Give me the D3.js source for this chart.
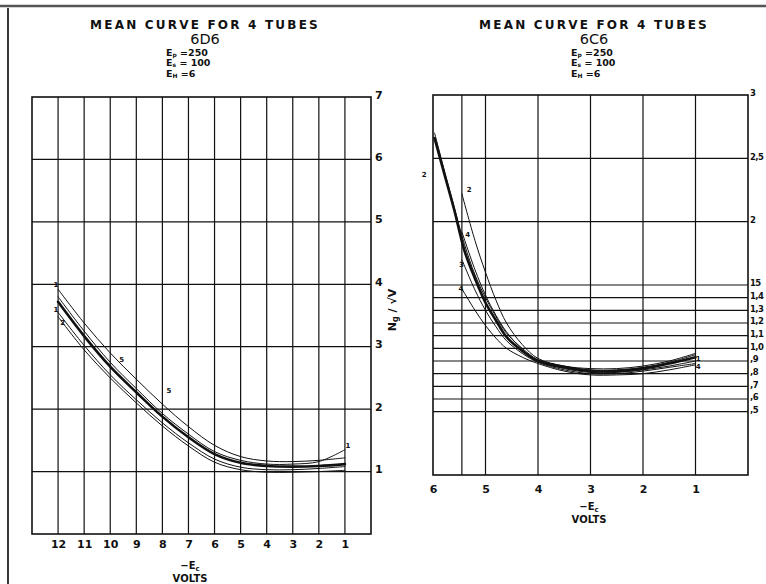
<!DOCTYPE html>
<html><head><meta charset="utf-8">
<script src="https://cdn.jsdelivr.net/npm/d3@7"></script>
<style>
body{margin:0;background:#fff}
svg{display:block}
text{font-family:"DejaVu Sans","Liberation Sans",sans-serif;fill:#111}
</style>
</head><body>
<svg id="c" width="766" height="584"></svg>
<script>
// ---------- DATA ----------
// Left chart: 6D6, x = -Ec volts, y = Ng/sqrt(V)
const leftBias = [12, 11, 10, 9, 8, 7, 6, 5, 4, 3, 2, 1];
const leftMean  = [3.72, 3.17, 2.68, 2.27, 1.88, 1.55, 1.28, 1.14, 1.09, 1.08, 1.09, 1.12];
const leftTube5 = [3.92, 3.38, 2.90, 2.48, 2.08, 1.72, 1.42, 1.24, 1.17, 1.16, 1.18, 1.22];
const leftTube1 = [3.80, 3.25, 2.75, 2.33, 1.93, 1.60, 1.32, 1.18, 1.12, 1.12, 1.16, 1.35];
const leftTube2 = [3.55, 3.02, 2.55, 2.15, 1.78, 1.46, 1.20, 1.07, 1.03, 1.03, 1.05, 1.08];
const leftTube4 = [3.48, 2.95, 2.50, 2.10, 1.73, 1.41, 1.15, 1.03, 0.99, 0.99, 1.00, 1.02];
const leftXTicks = [12, 11, 10, 9, 8, 7, 6, 5, 4, 3, 2, 1];
const leftXTickLabels = ["12","11","10","9","8","7","6","5","4","3","2","1"];
const leftYTicks = [1, 2, 3, 4, 5, 6, 7];
const leftYTickLabels = ["1","2","3","4","5","6","7"];
const leftNotes = [["1", 12.08, 3.99], ["1", 12.08, 3.60], ["2", 11.82, 3.38], ["5", 9.56, 2.79], ["5", 7.75, 2.30], ["1", 0.88, 1.41]];

// Right chart: 6C6
const rightMeanBias = [5.97, 5.8, 5.6, 5.4, 5.2, 5.0, 4.8, 4.6, 4.3, 4.0, 3.5, 3.0, 2.5, 2.0, 1.5, 1.0];
const rightMean     = [2.66, 2.40, 2.10, 1.77, 1.55, 1.36, 1.22, 1.09, 0.98, 0.90, 0.85, 0.82, 0.82, 0.84, 0.88, 0.93];
const rightTube1    = [2.70, 2.43, 2.12, 1.82, 1.58, 1.40, 1.25, 1.12, 1.00, 0.91, 0.86, 0.83, 0.83, 0.85, 0.89, 0.95];
const rightTubeBias = [5.45, 5.2, 5.0, 4.8, 4.6, 4.3, 4.0, 3.5, 3.0, 2.5, 2.0, 1.5, 1.0];
const rightTube2    = [2.22, 1.85, 1.60, 1.38, 1.20, 1.03, 0.92, 0.86, 0.84, 0.84, 0.86, 0.90, 0.96];
const rightTube4a   = [1.92, 1.62, 1.42, 1.26, 1.13, 0.99, 0.90, 0.84, 0.81, 0.81, 0.83, 0.86, 0.90];
const rightTube3    = [1.70, 1.46, 1.30, 1.17, 1.06, 0.96, 0.89, 0.83, 0.80, 0.80, 0.82, 0.85, 0.88];
const rightTube4b   = [1.47, 1.30, 1.18, 1.08, 1.00, 0.93, 0.88, 0.82, 0.79, 0.79, 0.80, 0.83, 0.87];
const rightXTicks = [6, 5, 4, 3, 2, 1];
const rightXTickLabels = ["6","5","4","3","2","1"];
const rightXGrid = [5.45, 5, 4, 3, 2, 1];
const rightYTicks = [3, 2.5, 2, 1.5, 1.4, 1.3, 1.2, 1.1, 1.0, 0.9, 0.8, 0.7, 0.6, 0.5];
const rightYTickLabels = ["3","2,5","2","15","1,4","1,3","1,2","1,1","1,0",",9",",8",",7",",6",",5"];
const rightNotes = [["2", 6.17, 2.37], ["2", 5.31, 2.25], ["4", 5.34, 1.90], ["3", 5.46, 1.66], ["4", 5.47, 1.47], ["1", 0.95, 0.92], ["4", 0.95, 0.86]];

// ---------- DRAW ----------
const svg = d3.select("#c");
const ink = "#111";

// scan page borders
svg.append("line").attr("x1",0).attr("x2",766).attr("y1",6).attr("y2",6).attr("stroke","#555").attr("stroke-width",2.5);
svg.append("line").attr("x1",8).attr("x2",8).attr("y1",8).attr("y2",584).attr("stroke","#222").attr("stroke-width",1.8);

function drawChart(o){
  const g = svg.append("g");
  const x = d3.scaleLinear().domain(o.xDomain).range(o.xRange);
  const y = d3.scaleLinear().domain(o.yDomain).range(o.yRange);
  const [x0,x1] = o.xRange, [y0,y1] = o.yRange;
  g.append("g").selectAll("line").data(o.xGrid).join("line")
    .attr("x1",d=>x(d)).attr("x2",d=>x(d)).attr("y1",y1).attr("y2",y0)
    .attr("stroke",ink).attr("stroke-width",1.2);
  g.append("g").selectAll("line").data(o.yGrid).join("line")
    .attr("x1",x0).attr("x2",x1).attr("y1",d=>y(d)).attr("y2",d=>y(d))
    .attr("stroke",ink).attr("stroke-width",1.2);
  g.append("rect").attr("x",x0).attr("y",y1).attr("width",x1-x0).attr("height",y0-y1)
    .attr("fill","none").attr("stroke",ink).attr("stroke-width",1.6);
  const xa = d3.axisBottom(x).tickValues(o.xTicks).tickFormat((d,i)=>o.xTickLabels[i]).tickSize(0).tickPadding(o.xPad);
  const xg = g.append("g").attr("transform",`translate(0,${y0})`).call(xa);
  xg.select(".domain").remove();
  xg.selectAll("text").style("font-size","11px").style("font-weight","bold").attr("fill",ink);
  const ya = d3.axisRight(y).tickValues(o.yTicks).tickFormat((d,i)=>o.yTickLabels[i]).tickSize(0).tickPadding(o.yPad);
  const yg = g.append("g").attr("transform",`translate(${x1},0)`).call(ya);
  yg.select(".domain").remove();
  yg.selectAll("text").style("font-size",o.yFont).style("font-weight","bold").style("letter-spacing",o.yLs||"0px")
    .attr("fill",ink).attr("dy","0.1em");
  const line = d3.line().x(d=>x(d[0])).y(d=>y(d[1])).curve(d3.curveCatmullRom.alpha(0.5));
  o.series.forEach(s=>{
    g.append("path").attr("d", line(s.xs.map((v,i)=>[v,s.ys[i]])))
      .attr("fill","none").attr("stroke",ink).attr("stroke-width",s.w).attr("stroke-linecap","round");
  });
  g.append("g").selectAll("text").data(o.notes).join("text")
    .attr("x",d=>x(d[1])).attr("y",d=>y(d[2])).attr("text-anchor","middle").attr("dy","0.35em")
    .style("font-size","7px").style("font-weight","bold").text(d=>d[0]);
  return {x,y};
}

drawChart({
  xDomain:[13,0], xRange:[32,371], yDomain:[0,7], yRange:[534,97],
  xGrid:leftXTicks, yGrid:[1,2,3,4,5,6],
  xTicks:leftXTicks, xTickLabels:leftXTickLabels, xPad:6,
  yTicks:leftYTicks, yTickLabels:leftYTickLabels, yPad:4, yFont:"11px",
  series:[
    {xs:leftBias, ys:leftTube5, w:1},
    {xs:leftBias, ys:leftTube1, w:1},
    {xs:leftBias, ys:leftTube2, w:1},
    {xs:leftBias, ys:leftTube4, w:1},
    {xs:leftBias, ys:leftMean, w:2.6}
  ],
  notes:leftNotes
});

drawChart({
  xDomain:[6,0], xRange:[433,748], yDomain:[0,3], yRange:[475,95],
  xGrid:rightXGrid, yGrid:[2.5,2,1.5,1.4,1.3,1.2,1.1,1.0,0.9,0.8,0.7,0.6,0.5],
  xTicks:rightXTicks, xTickLabels:rightXTickLabels, xPad:10,
  yTicks:rightYTicks, yTickLabels:rightYTickLabels, yPad:2, yFont:"8.5px", yLs:"-0.6px",
  series:[
    {xs:rightMeanBias, ys:rightTube1, w:1},
    {xs:rightTubeBias, ys:rightTube2, w:1},
    {xs:rightTubeBias, ys:rightTube4a, w:1},
    {xs:rightTubeBias, ys:rightTube3, w:1},
    {xs:rightTubeBias, ys:rightTube4b, w:1},
    {xs:rightMeanBias, ys:rightMean, w:2.6}
  ],
  notes:rightNotes
});

// titles
function header(cx, tube, ex){
  const t = svg.append("g");
  t.append("text").attr("x",cx).attr("y",29).attr("text-anchor","middle")
    .style("font-size","12px").style("letter-spacing","2.2px").style("font-weight","bold").text("MEAN CURVE FOR 4 TUBES");
  t.append("text").attr("x",cx).attr("y",44).attr("text-anchor","middle")
    .style("font-size","14.5px").text(tube);
  const rows = [["p","=250",55.5],["s","= 100",66],["H","=6",77]];
  rows.forEach(r=>{
    const tx = t.append("text").attr("x",ex).attr("y",r[2]).style("font-size","9.5px").style("font-weight","bold");
    tx.append("tspan").text("E");
    tx.append("tspan").attr("dy",1).style("font-size","6px").text(r[0]);
    tx.append("tspan").attr("dy",-1).text(" "+r[1]);
  });
}
header(205,"6D6",166);
header(594,"6C6",571);

// axis titles
function xTitle(cx, y){
  const t = svg.append("text").attr("x",cx).attr("y",y).attr("text-anchor","middle").style("font-size","10px").style("font-weight","bold");
  t.append("tspan").text("\u2212E");
  t.append("tspan").attr("dy",2).style("font-size","7px").text("c");
  svg.append("text").attr("x",cx).attr("y",y+13).attr("text-anchor","middle").style("font-size","10px").style("font-weight","bold").text("VOLTS");
}
xTitle(190,569);
xTitle(589,510);

// y label between charts
const yl = svg.append("text").attr("transform","translate(396,310) rotate(-90)").attr("text-anchor","middle")
  .style("font-size","11px").style("font-weight","bold");
yl.append("tspan").text("N");
yl.append("tspan").attr("dy",2).style("font-size","8px").text("g");
yl.append("tspan").attr("dy",-2).text(" / \u221AV");
</script>
</body></html>
